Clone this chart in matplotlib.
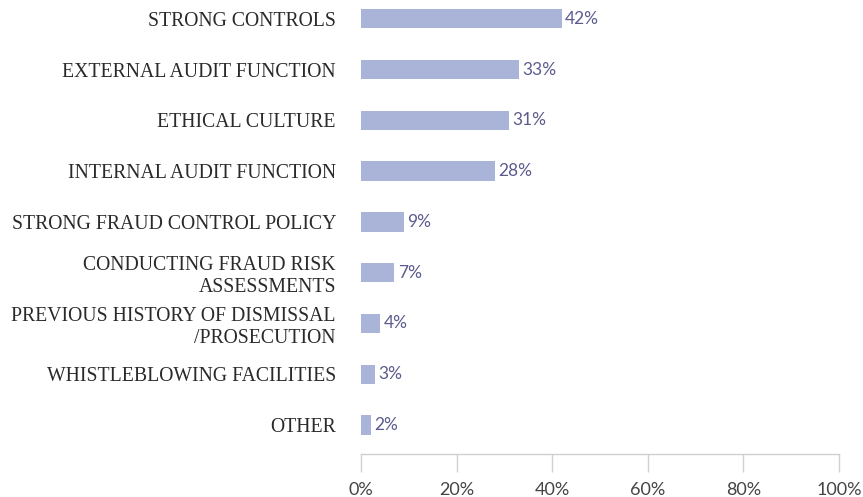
import matplotlib.pyplot as plt
from matplotlib.ticker import FuncFormatter

# Данні
categories = [
    'STRONG CONTROLS',
    'EXTERNAL AUDIT FUNCTION',
    'ETHICAL CULTURE',
    'INTERNAL AUDIT FUNCTION',
    'STRONG FRAUD CONTROL POLICY',
    'CONDUCTING FRAUD RISK\nASSESSMENTS',
    'PREVIOUS HISTORY OF DISMISSAL\n/PROSECUTION',
    'WHISTLEBLOWING FACILITIES',
    'OTHER',
]
values = [42, 33, 31, 28, 9, 7, 4, 3, 2]
x_ticks = [0, 20, 40, 60, 80, 100]

bar_color = '#aab3d8'
value_color = '#5b5b8e'
axis_color = '#d0d0cc'

fig = plt.figure(figsize=(8.63, 4.97), dpi=100)
ax = fig.add_axes([0.4183, 0.0865, 0.5539, 0.9135])

pos = list(range(len(categories)))
ax.barh(pos, values, height=0.38, color=bar_color)

for p, v in zip(pos, values):
    ax.text(v + 0.7, p, f'{v}%', va='center', ha='left',
            fontsize=12.5, color=value_color, family='Lato')

ax.set_ylim(8.57, -0.37)
ax.set_xlim(0, 100)
ax.set_yticks(pos)
ax.set_yticklabels(categories, fontsize=14.2, family='Liberation Serif',
                   color='#2a2a2a', linespacing=1.2)
ax.tick_params(axis='y', length=0, pad=18)

ax.set_xticks(x_ticks)
ax.xaxis.set_major_formatter(FuncFormatter(lambda x, _: f'{x:.0f}%'))
ax.tick_params(axis='x', length=13, width=1, color=axis_color, pad=7,
               labelsize=13, labelcolor='#444444')
for lbl in ax.get_xticklabels():
    lbl.set_family('Lato')

for s in ['top', 'right', 'left']:
    ax.spines[s].set_visible(False)
ax.spines['bottom'].set_color(axis_color)
ax.spines['bottom'].set_linewidth(1)

fig.savefig('out.png', dpi=100)
